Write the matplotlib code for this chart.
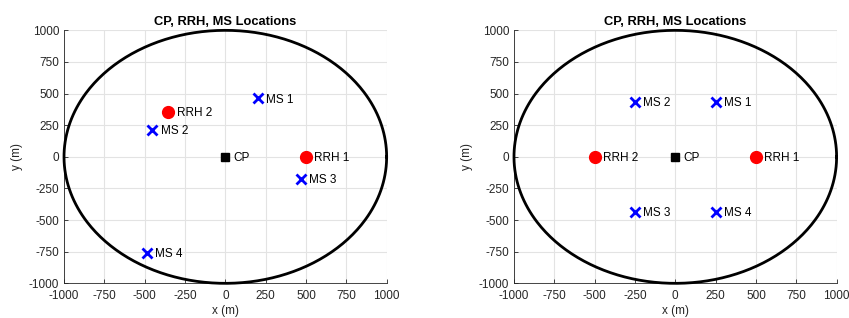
import numpy as np
import matplotlib
matplotlib.use('Agg')
import matplotlib.pyplot as plt

plt.rcParams['font.family'] = ['Liberation Sans', 'DejaVu Sans']
plt.rcParams['axes.unicode_minus'] = False

# cell radius (m)
radius = 1000

# left scenario
cp_left = (0, 0)
rrh_left_x = [500, -354]
rrh_left_y = [0, 354]
ms_left_x = [200, -452, 470, -487]
ms_left_y = [462, 212, -172, -757]

# right scenario
cp_right = (0, 0)
rrh_right_x = [500, -500]
rrh_right_y = [0, 0]
ms_right_x = [250, -250, -250, 250]
ms_right_y = [433, 433, -433, -433]

ticks = [-1000, -750, -500, -250, 0, 250, 500, 750, 1000]
txt = '#262626'

fig = plt.figure(figsize=(8.49, 3.18), dpi=100)
ax1 = fig.add_axes([0.0754, 0.109, 0.3800, 0.7956])
ax2 = fig.add_axes([0.6054, 0.109, 0.3800, 0.7956])


def draw(ax, cp, rrh_x, rrh_y, ms_x, ms_y):
    t = np.linspace(0, 2 * np.pi, 400)
    ax.plot(radius * np.cos(t), radius * np.sin(t), color='black', lw=2, zorder=3, clip_on=False)
    ax.plot(cp[0], cp[1], 's', color='black', ms=6, zorder=4)
    ax.annotate('CP', cp, xytext=(6, -1), textcoords='offset points',
                va='center', ha='left', fontsize=8.5)
    for i, (x, y) in enumerate(zip(rrh_x, rrh_y)):
        ax.plot(x, y, 'o', color='red', ms=8.5, zorder=4)
        ax.annotate('RRH %d' % (i + 1), (x, y), xytext=(6, -1), textcoords='offset points',
                    va='center', ha='left', fontsize=8.5)
    for i, (x, y) in enumerate(zip(ms_x, ms_y)):
        ax.plot(x, y, 'x', color='blue', ms=6.5, mew=2, zorder=4)
        ax.annotate('MS %d' % (i + 1), (x, y), xytext=(6, -1), textcoords='offset points',
                    va='center', ha='left', fontsize=8.5)
    ax.set_xlim(-1000, 1000)
    ax.set_ylim(-1000, 1000)
    ax.set_xticks(ticks)
    ax.set_yticks(ticks)
    ax.grid(True, color='#e3e3e3', lw=0.8)
    ax.set_axisbelow(True)
    ax.tick_params(direction='in', length=3, labelsize=8.5, colors=txt, width=0.6)
    ax.tick_params(axis='x', pad=5)
    for s in ['top', 'right']:
        ax.spines[s].set_visible(False)
    for s in ['left', 'bottom']:
        ax.spines[s].set_color(txt)
        ax.spines[s].set_linewidth(0.6)
    ax.set_xlabel('x (m)', fontsize=8.5, color=txt, labelpad=2)
    ax.set_ylabel('y (m)', fontsize=8.5, color=txt, labelpad=4)
    ax.set_title('CP, RRH, MS Locations', fontsize=9.3, fontweight='bold', pad=4)


draw(ax1, cp_left, rrh_left_x, rrh_left_y, ms_left_x, ms_left_y)
draw(ax2, cp_right, rrh_right_x, rrh_right_y, ms_right_x, ms_right_y)

fig.savefig('out.png', dpi=100)
